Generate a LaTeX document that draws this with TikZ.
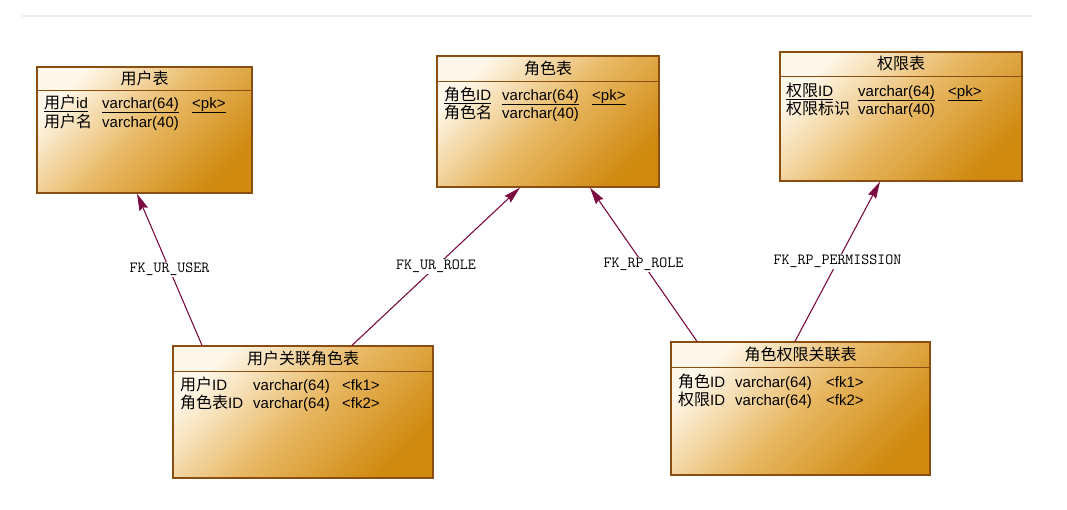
\documentclass[tikz,border=0pt]{standalone}
\usepackage{fontspec}
\setmainfont{Liberation Sans}
\newfontfamily\cjk{Noto Sans CJK SC}
\usepackage{tikz}
\usetikzlibrary{arrows.meta}
\usetikzlibrary{positioning,calc}
\newcommand{\zh}[1]{{\cjk\fontsize{16}{18}\selectfont #1}}
\definecolor{tblborder}{HTML}{8A4E10}
\definecolor{tbllight}{HTML}{FFF8EA}
\definecolor{tblmid}{HTML}{E8B864}
\definecolor{tbldark}{HTML}{D08A10}
\definecolor{fkline}{HTML}{7B0C42}
\tikzset{
	table/.style={
		rectangle,
		draw=tblborder, line width=1.3pt,
		inner sep=0pt,
		top color=tbllight, bottom color=tbldark, middle color=tblmid,
		shading angle=45,
	},
	tableline/.style={draw=tblborder, line width=1.3pt},
	title/.style={inner sep=0pt, font=\fontsize{16}{18}\selectfont},
	row/.style={inner sep=0pt, anchor=base west, font=\fontsize{15}{17}\selectfont},
	fk/.style={draw=fkline, line width=1.1pt},
	fklabel/.style={fill=white, inner sep=1pt, font=\fontsize{15.5}{17}\ttfamily},
}

\begin{document}
\begin{tikzpicture}[x=1pt,y=-1pt,>={Stealth[length=17pt,width=9pt,inset=2pt]}]
	
	\useasboundingbox (0,0) rectangle (1067,509);
	
	% grey rule under the page heading
	\draw[line width=2pt, color=black!7] (22,16) -- (1032,16);
	
	% the three main tables
	\node[table, minimum width=215, minimum height=126] (USER) at (144.5,130) {};
	\node[table, minimum width=222, minimum height=131] (ROLE) at (548,121.5) {};
	\node[table, minimum width=242, minimum height=129] (PERM) at (901,116.5) {};
	
	% the two link tables
	\node[table, minimum width=260, minimum height=132] (UR) at (303,412) {};
	\node[table, minimum width=259, minimum height=133] (RP) at (800.5,408.5) {};
	
	% header lines
	\draw[tableline] ([yshift=-24pt]USER.north west) -- ([yshift=-24pt]USER.north east);
	\draw[tableline] ([yshift=-26pt]ROLE.north west) -- ([yshift=-26pt]ROLE.north east);
	\draw[tableline] ([yshift=-25pt]PERM.north west) -- ([yshift=-25pt]PERM.north east);
	\draw[tableline] ([yshift=-26pt]UR.north west) -- ([yshift=-26pt]UR.north east);
	\draw[tableline] ([yshift=-26pt]RP.north west) -- ([yshift=-26pt]RP.north east);
	
	% titles
	\node[title] (USERt) at ([yshift=-12pt]USER.north) {\zh{用户表}};
	\node[title] (ROLEt) at ([yshift=-13pt]ROLE.north) {\zh{角色表}};
	\node[title] (PERMt) at ([yshift=-12.5pt]PERM.north) {\zh{权限表}};
	\node[title] (URt) at ([yshift=-13pt]UR.north) {\zh{用户关联角色表}};
	\node[title] (RPt) at ([yshift=-13pt]RP.north) {\zh{角色权限关联表}};
	
	% columns of 用户表
	\node[row] (u1) at (44,108) {\underline{\zh{用户}id}};
	\node[row] (u2) at (102,108) {\underline{varchar(64)}};
	\node[row] (u3) at (192,108) {\underline{<pk>}};
	\node[row] (u4) at (44,127) {\zh{用户名}};
	\node[row] (u5) at (102,127) {varchar(40)};
	
	% columns of 角色表
	\node[row] (r1) at (444,100) {\underline{\zh{角色}ID}};
	\node[row] (r2) at (502,100) {\underline{varchar(64)}};
	\node[row] (r3) at (592,100) {\underline{<pk>}};
	\node[row] (r4) at (444,118) {\zh{角色名}};
	\node[row] (r5) at (502,118) {varchar(40)};
	
	% columns of 权限表
	\node[row] (p1) at (786,96) {\underline{\zh{权限}ID}};
	\node[row] (p2) at (858,96) {\underline{varchar(64)}};
	\node[row] (p3) at (948,96) {\underline{<pk>}};
	\node[row] (p4) at (786,114) {\zh{权限标识}};
	\node[row] (p5) at (858,114) {varchar(40)};
	
	% columns of 用户关联角色表
	\node[row] (ur1) at (180,390) {\zh{用户}ID};
	\node[row] (ur2) at (253,390) {varchar(64)};
	\node[row] (ur3) at (342,390) {<fk1>};
	\node[row] (ur4) at (180,408) {\zh{角色表}ID};
	\node[row] (ur5) at (253,408) {varchar(64)};
	\node[row] (ur6) at (342,408) {<fk2>};
	
	% columns of 角色权限关联表
	\node[row] (rp1) at (678,387) {\zh{角色}ID};
	\node[row] (rp2) at (735,387) {varchar(64)};
	\node[row] (rp3) at (826,387) {<fk1>};
	\node[row] (rp4) at (678,405) {\zh{权限}ID};
	\node[row] (rp5) at (735,405) {varchar(64)};
	\node[row] (rp6) at (826,405) {<fk2>};
	
	% foreign keys, each with its name halfway
	\draw[fk,->] ([xshift=-101pt]UR.north) -- node[fklabel]{FK\_UR\_USER} ([xshift=-7.5pt]USER.south);
	\draw[fk,->] ([xshift=49pt]UR.north) -- node[fklabel]{FK\_UR\_ROLE} ([xshift=-28pt]ROLE.south);
	\draw[fk,->] ([xshift=-103.5pt]RP.north) -- node[fklabel]{FK\_RP\_ROLE} ([xshift=42pt]ROLE.south);
	\draw[fk,->] ([xshift=-5.5pt]RP.north) -- node[fklabel]{FK\_RP\_PERMISSION} ([xshift=-21pt]PERM.south);
	
\end{tikzpicture}
\end{document}
